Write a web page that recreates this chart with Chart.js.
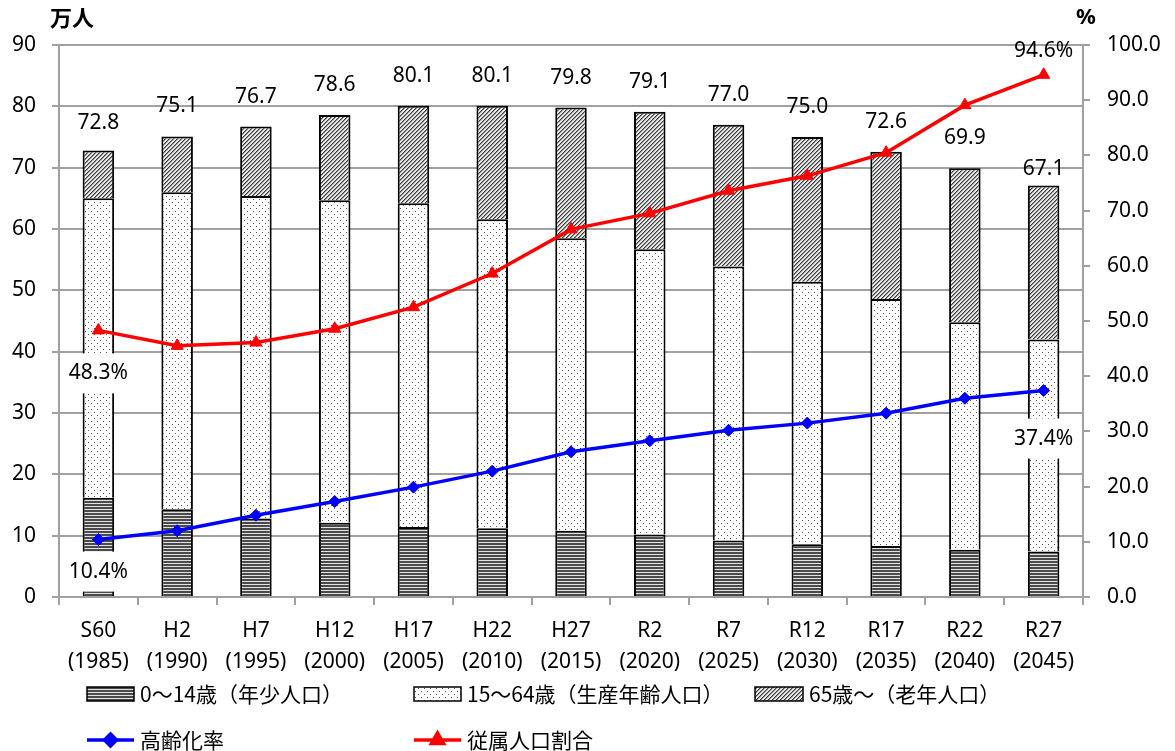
<!DOCTYPE html>
<html lang="ja">
<head>
<meta charset="UTF-8">
<title>人口推計</title>
<script src="https://cdn.jsdelivr.net/npm/chart.js@4.4.0/dist/chart.umd.min.js"></script>
<style>
    html, body { margin: 0; padding: 0; background: #fff; }
    #wrap { width: 1175px; height: 751px; }
</style>
</head>
<body>
<div id="wrap"><canvas id="popChart" width="1175" height="751"></canvas></div>

<script>
// data
const eras = ['S60', 'H2', 'H7', 'H12', 'H17', 'H22', 'H27', 'R2', 'R7', 'R12', 'R17', 'R22', 'R27'];
const years = ['1985', '1990', '1995', '2000', '2005', '2010', '2015', '2020', '2025', '2030', '2035', '2040', '2045'];
const young   = [16.2, 14.3, 12.8, 12.1, 11.4, 11.2, 10.8, 10.2, 9.2, 8.6, 8.3, 7.7, 7.4];   // 0~14
const working = [48.8, 51.7, 52.6, 52.6, 52.8, 50.4, 47.7, 46.5, 44.7, 42.8, 40.3, 37.1, 34.6]; // 15~64
const elderly = [7.8, 9.1, 11.3, 13.9, 15.9, 18.5, 21.3, 22.4, 23.1, 23.6, 24.0, 25.1, 25.1];  // 65~
const agingRate = [10.4, 12.0, 14.8, 17.3, 19.9, 22.8, 26.3, 28.3, 30.2, 31.5, 33.3, 36.0, 37.4];
const dependencyRate = [48.3, 45.5, 46.1, 48.6, 52.5, 58.6, 66.6, 69.5, 73.6, 76.3, 80.5, 89.1, 94.6];

const NUM_FONT = "'Noto Sans', sans-serif";
const JP_FONT = "'Noto Sans CJK JP', 'Noto Sans', sans-serif";
const GRID = '#a0a0a0';

// fill patterns
function makeTile(w, h, draw) {
    const c = document.createElement('canvas');
    c.width = w; c.height = h;
    const g = c.getContext('2d');
    draw(g);
    return document.createElement('canvas').getContext('2d').createPattern(c, 'repeat');
}
const stripePattern = makeTile(1, 3, g => {
    g.fillStyle = '#4a4a4a'; g.fillRect(0, 0, 1, 2);
    g.fillStyle = '#e2e2e2'; g.fillRect(0, 2, 1, 1);
});
const dotPattern = makeTile(6, 6, g => {
    g.fillStyle = '#fff'; g.fillRect(0, 0, 6, 6);
    g.fillStyle = '#555'; g.fillRect(1, 1, 1, 1); g.fillRect(4, 4, 1, 1);
});
const hatchPattern = makeTile(4, 4, g => {
    g.fillStyle = '#e8e8e8'; g.fillRect(0, 0, 4, 4);
    for (let i = 0; i < 4; i++) {
        g.fillStyle = '#3a3a3a'; g.fillRect(i, 3 - i, 1, 1);
        g.fillStyle = '#909090'; g.fillRect((i + 1) % 4, 3 - i, 1, 1);
    }
});

// where the number labels of the lines sit (px from the point)
const lineLabels = [
    { ds: 3, i: 0, dy: 32, box: true },
    { ds: 3, i: 12, dy: 48, box: true },
    { ds: 4, i: 0, dy: 43, box: true },
    { ds: 4, i: 12, dy: -24, box: false }
];
const totalOffset = i => (i === 12 ? 16 : (i === 0 ? 27 : 30));

const extras = {
    id: 'extras',
    afterDatasetsDraw(chart) {
        const ctx = chart.ctx;
        ctx.save();
        ctx.font = '21px ' + NUM_FONT;
        ctx.fillStyle = '#000';
        ctx.textAlign = 'center';
        ctx.textBaseline = 'middle';

        // totals on top of the bars
        const top = chart.getDatasetMeta(2).data;
        top.forEach((bar, i) => {
            const sum = Math.round((young[i] + working[i] + elderly[i]) * 10) / 10;
            ctx.fillText(sum.toFixed(1), bar.x, bar.y - totalOffset(i));
        });

        // value labels of the two rates
        lineLabels.forEach(l => {
            const pt = chart.getDatasetMeta(l.ds).data[l.i];
            const txt = chart.data.datasets[l.ds].data[l.i].toFixed(1) + '%';
            const y = pt.y + l.dy;
            if (l.box) {
                const w = ctx.measureText(txt).width + 16;
                ctx.fillStyle = '#fff';
                ctx.fillRect(pt.x - w / 2, y - 20, w, 40);
                ctx.fillStyle = '#000';
            }
            ctx.fillText(txt, pt.x, y);
        });
        ctx.restore();
    },
    afterDraw(chart) {
        const ctx = chart.ctx;
        ctx.save();
        ctx.fillStyle = '#000';
        ctx.textBaseline = 'middle';
        ctx.textAlign = 'left';
        ctx.font = 'bold 22px ' + JP_FONT;
        ctx.fillText('万人', 50, 18);
        ctx.font = 'bold 22px ' + NUM_FONT;
        ctx.fillText('%', 1076, 18);

        // legend
        const swatches = [
            { x: 87, w: 47, fill: stripePattern, label: '0〜14歳（年少人口）' },
            { x: 414, w: 47, fill: dotPattern, label: '15〜64歳（生産年齢人口）' },
            { x: 755, w: 48, fill: hatchPattern, label: '65歳〜（老年人口）' }
        ];
        ctx.font = '21px ' + JP_FONT;
        swatches.forEach(s => {
            ctx.fillStyle = s.fill;
            ctx.fillRect(s.x, 687, s.w, 14);
            ctx.strokeStyle = '#000';
            ctx.lineWidth = 1.5;
            ctx.strokeRect(s.x, 687, s.w, 14);
            ctx.fillStyle = '#000';
            ctx.fillText(s.label, s.x + s.w + 6, 694);
        });

        const lines = [
            { x: 87, color: '#0000ff', style: 'rectRot', r: 6, label: '高齢化率' },
            { x: 414, color: '#ff0000', style: 'triangle', r: 7, label: '従属人口割合' }
        ];
        lines.forEach(l => {
            ctx.strokeStyle = l.color;
            ctx.lineWidth = 3.5;
            ctx.beginPath();
            ctx.moveTo(l.x, 740);
            ctx.lineTo(l.x + 47, 740);
            ctx.stroke();
            ctx.fillStyle = l.color;
            Chart.helpers.drawPoint(ctx, { pointStyle: l.style, radius: l.r, borderWidth: 1 }, l.x + 23.5, 740);
            ctx.fillStyle = '#000';
            ctx.fillText(l.label, l.x + 53, 740);
        });
        ctx.restore();
    }
};

const barCommon = {
    type: 'bar',
    yAxisID: 'y',
    borderColor: '#000',
    borderWidth: 2,
    barPercentage: 0.4,
    categoryPercentage: 1.0,
    order: 2
};

new Chart(document.getElementById('popChart'), {
    data: {
        labels: eras.map((e, i) => [e, '(' + years[i] + ')']),
        datasets: [
            Object.assign({ label: '0〜14歳（年少人口）', data: young, backgroundColor: stripePattern }, barCommon),
            Object.assign({ label: '15〜64歳（生産年齢人口）', data: working, backgroundColor: dotPattern }, barCommon),
            Object.assign({ label: '65歳〜（老年人口）', data: elderly, backgroundColor: hatchPattern }, barCommon),
            {
                type: 'line', label: '高齢化率', data: agingRate, yAxisID: 'y1',
                borderColor: '#0000ff', backgroundColor: '#0000ff', borderWidth: 3.5,
                pointStyle: 'rectRot', pointRadius: 6, pointBorderWidth: 1, order: 0
            },
            {
                type: 'line', label: '従属人口割合', data: dependencyRate, yAxisID: 'y1',
                borderColor: '#ff0000', backgroundColor: '#ff0000', borderWidth: 3.5,
                pointStyle: 'triangle', pointRadius: 7, pointBorderWidth: 1, order: 0
            }
        ]
    },
    options: {
        responsive: false,
        animation: false,
        layout: { padding: { top: 45, left: 0, right: 0, bottom: 0 } },
        plugins: { legend: { display: false }, tooltip: { enabled: false } },
        scales: {
            x: {
                stacked: true,
                offset: true,
                grid: { offset: true, drawOnChartArea: false, drawTicks: true, tickLength: 8, color: GRID, lineWidth: 2 },
                border: { display: true, color: GRID, width: 2 },
                ticks: {
                    color: '#000', padding: 10, maxRotation: 0, autoSkip: false,
                    font: { family: NUM_FONT, size: 21, lineHeight: 1.5 }
                },
                afterFit: s => { s.height = 154; }
            },
            y: {
                stacked: true,
                position: 'left',
                min: 0, max: 90,
                ticks: { stepSize: 10, color: '#000', padding: 16, font: { family: NUM_FONT, size: 21 } },
                grid: { color: GRID, lineWidth: 2, tickLength: 7 },
                border: { display: true, color: GRID, width: 2 },
                afterFit: s => { s.width = 59; }
            },
            y1: {
                position: 'right',
                min: 0, max: 100,
                ticks: {
                    stepSize: 10, color: '#000', padding: 17, font: { family: NUM_FONT, size: 21 },
                    callback: v => v.toFixed(1)
                },
                grid: { drawOnChartArea: false, color: GRID, lineWidth: 2, tickLength: 7 },
                border: { display: true, color: GRID, width: 2 },
                afterFit: s => { s.width = 92; }
            }
        }
    },
    plugins: [extras]
});
</script>
</body>
</html>
